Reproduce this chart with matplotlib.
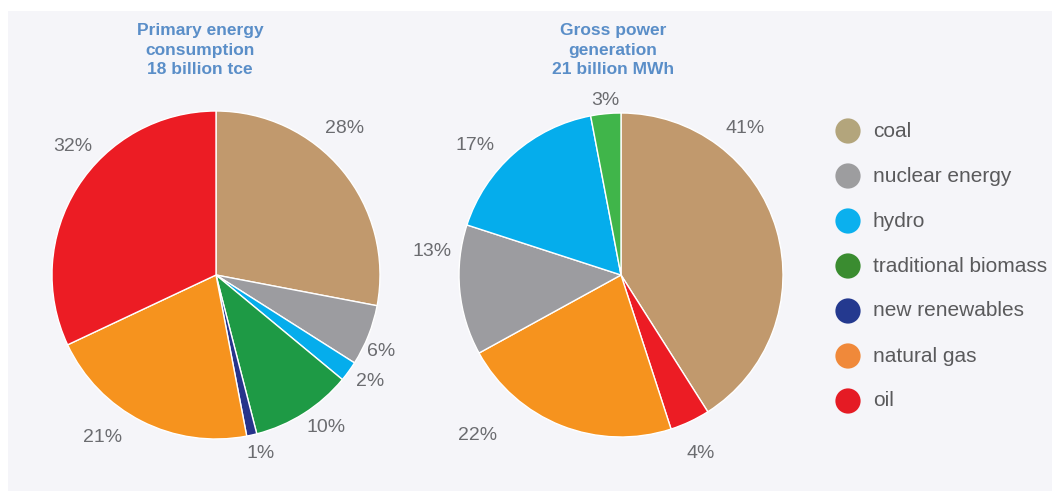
import matplotlib.pyplot as plt
from matplotlib.patches import Rectangle

# Primary energy consumption, share by source (%)
primary_sources = ["coal", "nuclear energy", "hydro", "traditional biomass",
                   "new renewables", "natural gas", "oil"]
primary_share = [28, 6, 2, 10, 1, 21, 32]

# Gross power generation, share by source (%)
power_sources = ["coal", "oil", "natural gas", "nuclear energy", "hydro",
                 "traditional biomass"]
power_share = [41, 4, 22, 13, 17, 3]

legend_labels = ["coal", "nuclear energy", "hydro", "traditional biomass",
                 "new renewables", "natural gas", "oil"]

titles = ["Primary energy\nconsumption\n18 billion tce",
          "Gross power\ngeneration\n21 billion MWh"]

pie_colors = {
    "coal": "#c1996d",
    "nuclear energy": "#9c9ca0",
    "hydro": "#05adec",
    "traditional biomass": "#1e9a45",
    "new renewables": "#27348b",
    "natural gas": "#f6931e",
    "oil": "#ec1c24",
}
power_green = "#40b54a"
legend_colors = ["#b3a57c", "#9d9d9f", "#0bb0ee", "#3a8c30",
                 "#24398f", "#f0893a", "#e51b24"]

# label offsets from pie centre, in pixels (x right, y up)
primary_label_off = [(129, 147), (165, -77), (154, -106), (110, -152),
                     (45, -179), (-113, -162), (-143, 129)]
power_label_off = [(124, 147), (80, -178), (-143, -161), (-189, 23),
                   (-146, 130), (-16, 175)]

W, H = 1052, 491
fig = plt.figure(figsize=(W / 100, H / 100), dpi=100)
ax = fig.add_axes([0, 0, 1, 1])

ax.add_patch(Rectangle((8, 0), W - 8, H - 11, facecolor="#f5f5f9",
                       edgecolor="none", zorder=0))

font = ["Liberation Sans", "DejaVu Sans"]
pct_color = "#6b6c70"
title_color = "#5a8ec8"

charts = [
    (primary_sources, primary_share, primary_label_off, (216, 216), 164,
     [pie_colors[s] for s in primary_sources], 200),
    (power_sources, power_share, power_label_off, (621, 216), 162,
     [power_green if s == "traditional biomass" else pie_colors[s]
      for s in power_sources], 613),
]

for (sources, share, offs, center, r, colors, title_x), title in zip(charts, titles):
    ax.pie(share, colors=colors, startangle=90, counterclock=False,
           center=center, radius=r, frame=True,
           wedgeprops=dict(edgecolor="white", linewidth=1.0))
    for v, (dx, dy) in zip(share, offs):
        ax.text(center[0] + dx, center[1] + dy, f"{v}%", ha="center",
                va="center", fontsize=14, color=pct_color, family=font)
    ax.text(title_x, H - 50, title, ha="center", va="center", fontsize=12.5,
            fontweight="bold", color=title_color, family=font,
            linespacing=1.4)

# full-figure pixel coordinates (pie(frame=True) changes the limits)
ax.set_xlim(0, W)
ax.set_ylim(0, H)
ax.set_aspect("equal")
ax.axis("off")

legend_y0 = H - 131
for i, (lab, col) in enumerate(zip(legend_labels, legend_colors)):
    y = legend_y0 - i * 45
    ax.scatter([848], [y], s=330, color=col, edgecolors="none", zorder=3)
    ax.text(873, y, lab, ha="left", va="center", fontsize=15,
            color="#5a5a5c", family=font)

fig.savefig("out.png", dpi=100)
